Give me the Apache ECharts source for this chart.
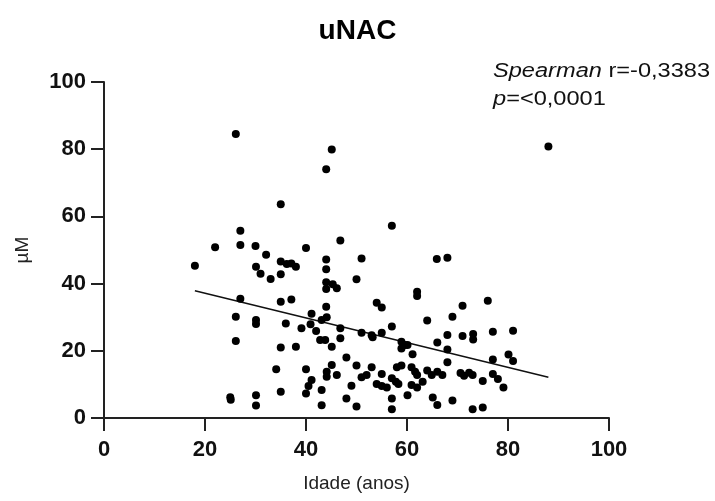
<!DOCTYPE html>
<html><head><meta charset="utf-8">
<script src="https://cdn.jsdelivr.net/npm/echarts@6/dist/echarts.min.js"></script>
<style>html,body{margin:0;padding:0;background:#fff}#c{width:715px;height:501px}</style>
</head><body><div id="c"></div>
<script>
var ages = [26.1,45.1,44.0,88.0,35.0,57.0,27.0,22.0,27.0,30.0,32.1,40.0,46.8,51.0,65.9,68.0,18.0,30.1,35.0,36.2,37.1,38.0,44.0,44.0,31.0,33.0,35.0,44.0,45.3,46.1,44.0,27.0,35.0,37.1,50.0,62.0,62.0,54.0,55.0,71.0,76.0,26.1,30.1,30.1,36.0,39.1,41.1,40.9,42.0,43.1,44.1,44.0,42.8,43.8,45.1,46.8,46.8,26.1,35.0,38.0,64.0,69.0,51.0,53.0,53.2,55.0,57.0,58.9,59.6,58.9,60.1,61.1,66.0,68.0,68.0,71.0,73.1,73.1,68.0,77.0,81.0,77.0,80.1,81.0,34.1,40.0,41.1,40.5,40.0,45.1,44.1,44.1,46.1,25.0,25.1,30.1,30.1,35.0,43.1,43.1,48.0,50.0,53.0,51.0,52.0,49.0,55.0,54.0,55.0,56.0,57.0,57.8,58.3,58.0,58.9,60.9,61.6,62.0,60.9,62.0,63.1,64.0,64.9,66.0,67.0,70.6,71.3,72.3,73.0,75.0,77.0,78.0,79.1,48.0,50.0,57.0,57.0,60.1,65.1,66.0,69.0,73.0,75.0];
var unac = [84.5,79.9,74.0,80.8,63.6,57.2,55.7,50.8,51.5,51.2,48.6,50.6,52.8,47.5,47.3,47.7,45.3,45.0,46.6,45.8,46.0,45.0,47.2,44.3,42.9,41.4,42.8,40.4,39.8,38.6,38.4,35.5,34.6,35.3,41.3,37.6,36.3,34.3,32.9,33.4,34.9,30.1,29.2,28.0,28.1,26.7,31.0,27.9,25.9,29.2,30.0,33.1,23.2,23.2,21.2,26.7,23.7,22.9,21.0,21.2,29.0,30.1,25.4,24.6,24.0,25.4,27.2,22.7,21.7,20.7,21.7,19.0,22.5,24.7,20.4,24.4,25.0,23.4,16.6,25.7,26.0,17.4,18.9,17.0,14.5,14.5,11.3,9.5,7.3,15.8,13.8,12.3,12.8,6.2,5.4,6.8,3.7,7.8,8.3,3.8,18.0,15.6,15.1,12.1,12.8,9.6,13.1,10.1,9.5,9.1,11.8,10.8,10.1,15.1,15.6,15.1,13.8,12.8,9.8,9.1,10.8,14.1,12.8,13.8,12.8,13.4,12.6,13.5,12.8,11.0,13.1,11.6,9.1,5.8,3.4,5.8,2.6,6.8,6.1,3.9,5.2,2.6,3.1];
var fitX = [18, 88];
var fitY = [37.9, 12.1];
var xTicks = [0, 20, 40, 60, 80, 100];
var yTicks = [0, 20, 40, 60, 80, 100];
var titleText = 'uNAC';
var statLine1 = ['Spearman', ' r=-0,3383'];
var statLine2 = ['p', '=<0,0001'];

var pts = ages.map(function(a, i){ return [a, unac[i]]; });
var fitPts = fitX.map(function(a, i){ return [a, fitY[i]]; });
var FF = '"Liberation Sans", Arial, sans-serif';
var axCol = '#222';
var richStyle = {i: {fontFamily: FF, fontSize: 20, fontStyle: 'italic', fill: '#111'}, n: {fontFamily: FF, fontSize: 20, fill: '#111'}};
var chart = echarts.init(document.getElementById('c'), null, {renderer: 'canvas'});
chart.setOption({
  animation: false,
  backgroundColor: '#fff',
  title: {text: titleText, left: 'center', top: 12, textStyle: {fontFamily: FF, fontSize: 28, fontWeight: 'bold', color: '#000'}},
  grid: {left: 104, right: 106, top: 82, bottom: 83, containLabel: false},
  xAxis: {
    type: 'value', min: xTicks[0], max: xTicks[xTicks.length-1], interval: 20,
    name: 'Idade (anos)', nameLocation: 'middle', nameGap: 56,
    nameTextStyle: {fontFamily: FF, fontSize: 19, color: '#222'},
    axisLine: {show: true, lineStyle: {color: axCol, width: 2}},
    axisTick: {show: true, length: 13, lineStyle: {color: axCol, width: 2}},
    axisLabel: {margin: 21, fontFamily: FF, fontSize: 22, fontWeight: 'bold', color: '#111'},
    splitLine: {show: false}
  },
  yAxis: {
    type: 'value', min: yTicks[0], max: yTicks[yTicks.length-1], interval: 20,
    name: 'µM', nameLocation: 'middle', nameGap: 72, nameRotate: 90,
    nameTextStyle: {fontFamily: FF, fontSize: 19, color: '#222'},
    axisLine: {show: true, lineStyle: {color: axCol, width: 2}},
    axisTick: {show: true, length: 13, lineStyle: {color: axCol, width: 2}},
    axisLabel: {margin: 18, fontFamily: FF, fontSize: 22, fontWeight: 'bold', color: '#111'},
    splitLine: {show: false}
  },
  graphic: [
    {type: 'text', x: 493, y: 61, scaleX: 1.18, style: {
      text: '{i|' + statLine1[0] + '}{n|' + statLine1[1] + '}', rich: richStyle
    }},
    {type: 'text', x: 493, y: 89, scaleX: 1.18, style: {
      text: '{i|' + statLine2[0] + '}{n|' + statLine2[1] + '}', rich: richStyle
    }}
  ],
  series: [
    {type: 'scatter', data: pts, symbol: 'circle', symbolSize: 8, itemStyle: {color: '#000', opacity: 1}, z: 3},
    {type: 'line', data: fitPts, symbol: 'none', lineStyle: {color: '#111', width: 1.5}, z: 2}
  ]
});
</script></body></html>
